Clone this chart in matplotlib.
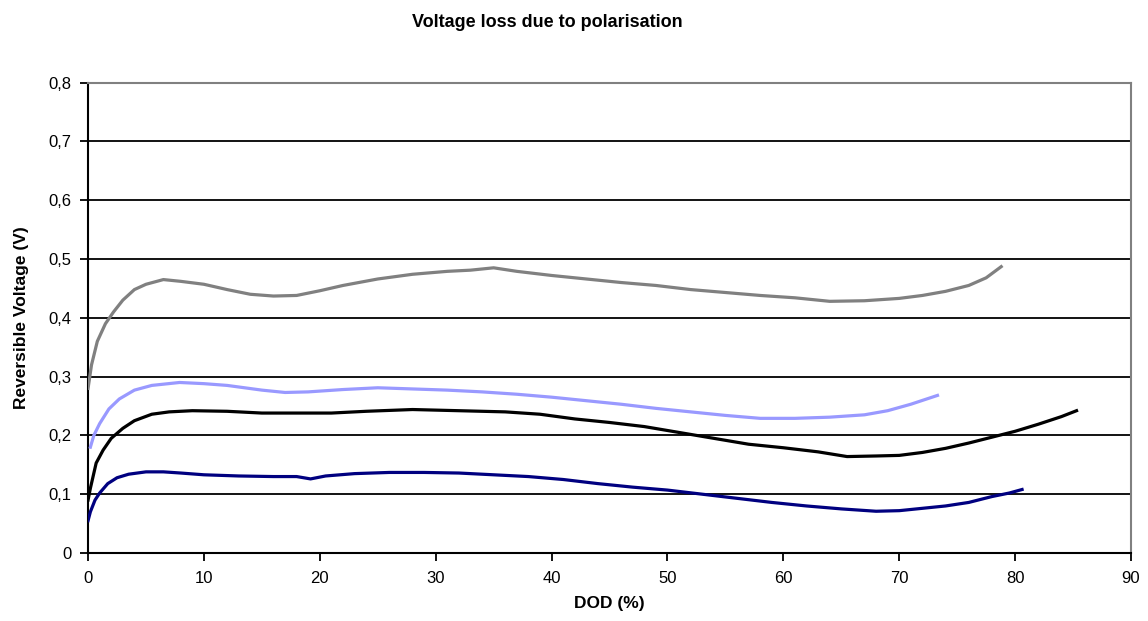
import matplotlib.pyplot as plt
from matplotlib.ticker import FuncFormatter

plt.rcParams['font.family'] = ['Liberation Sans', 'DejaVu Sans']

# Depth of discharge (%) and reversible voltage (V) for each test curve
gray_x = [0.0, 0.3, 0.8, 1.5, 2.2, 3.0, 4.0, 5.0, 6.5, 8, 10, 12, 14, 16, 18, 20, 22, 25, 28, 31,
          33, 35, 37, 40, 43, 46, 49, 52, 55, 58, 61, 64, 67, 70, 72, 74, 76, 77.5, 78.8]
gray_y = [0.28, 0.32, 0.36, 0.39, 0.41, 0.43, 0.448, 0.457, 0.465, 0.462, 0.457, 0.448, 0.44,
          0.437, 0.438, 0.446, 0.455, 0.466, 0.474, 0.479, 0.481, 0.485, 0.479, 0.472, 0.466,
          0.46, 0.455, 0.448, 0.443, 0.438, 0.434, 0.428, 0.429, 0.433, 0.438, 0.445, 0.455,
          0.468, 0.487]

lav_x = [0.2, 0.5, 1.0, 1.8, 2.7, 4.0, 5.5, 7.9, 10, 12, 15, 17, 19, 22, 25, 28, 31, 34, 37, 40,
         43, 46, 49, 52, 55, 58, 61, 64, 67, 69, 71, 73.3]
lav_y = [0.18, 0.2, 0.22, 0.245, 0.262, 0.277, 0.285, 0.29, 0.288, 0.285, 0.277, 0.273, 0.274,
         0.278, 0.281, 0.279, 0.277, 0.274, 0.27, 0.265, 0.259, 0.253, 0.246, 0.24, 0.234, 0.229,
         0.229, 0.231, 0.235, 0.242, 0.253, 0.268]

black_x = [0.0, 0.2, 0.7, 1.3, 2.0, 3.0, 4.0, 5.5, 7.0, 9, 12, 15, 18, 21, 24, 28, 32, 36, 39, 42,
           45, 48, 51, 54, 57, 60, 63, 65.5, 68, 70, 72, 74, 76, 78, 80, 82, 84, 85.3]
black_y = [0.09, 0.11, 0.153, 0.175, 0.195, 0.212, 0.225, 0.236, 0.24, 0.242, 0.241, 0.238,
           0.238, 0.238, 0.241, 0.244, 0.242, 0.24, 0.236, 0.228, 0.222, 0.215, 0.205, 0.195,
           0.185, 0.179, 0.172, 0.164, 0.165, 0.166, 0.171, 0.178, 0.187, 0.197, 0.207, 0.219,
           0.232, 0.242]

navy_x = [0.0, 0.2, 0.6, 1.0, 1.7, 2.5, 3.5, 5.0, 6.5, 8, 10, 13, 16, 18, 19.2, 20.5, 23, 26, 29,
          32, 35, 38, 41, 44, 47, 50, 53, 56, 59, 62, 65, 68, 70, 72, 74, 76, 78, 79.5, 80.6]
navy_y = [0.055, 0.07, 0.09, 0.102, 0.118, 0.128, 0.134, 0.138, 0.138, 0.136, 0.133, 0.131,
          0.13, 0.13, 0.126, 0.131, 0.135, 0.137, 0.137, 0.136, 0.133, 0.13, 0.125, 0.118, 0.112,
          0.107, 0.1, 0.093, 0.086, 0.08, 0.075, 0.071, 0.072, 0.076, 0.08, 0.086, 0.096, 0.102,
          0.108]

x_ticks = [0, 10, 20, 30, 40, 50, 60, 70, 80, 90]
y_ticks = [0, 0.1, 0.2, 0.3, 0.4, 0.5, 0.6, 0.7, 0.8]

fig = plt.figure(figsize=(11.48, 6.21), dpi=100)
ax = fig.add_axes([0.0767, 0.1095, 0.9085, 0.7575])

for yv in y_ticks[1:-1]:
    ax.axhline(yv, color='black', lw=1.3, zorder=1)

ax.plot(gray_x, gray_y, color='#808080', lw=2.3, zorder=3)
ax.plot(lav_x, lav_y, color='#9999FF', lw=2.3, zorder=3)
ax.plot(black_x, black_y, color='black', lw=2.3, zorder=3)
ax.plot(navy_x, navy_y, color='#000080', lw=2.3, zorder=3)

ax.set_xlim(0, 90)
ax.set_ylim(0, 0.8)
ax.set_xticks(x_ticks)
ax.set_yticks(y_ticks)
ax.yaxis.set_major_formatter(FuncFormatter(lambda v, p: '0' if v == 0 else f'{v:.1f}'.replace('.', ',')))

for side in ('left', 'bottom'):
    ax.spines[side].set_color('black')
    ax.spines[side].set_linewidth(1.5)
for side in ('top', 'right'):
    ax.spines[side].set_color('#808080')
    ax.spines[side].set_linewidth(1.5)

ax.tick_params(axis='both', direction='out', length=6, width=1.3, labelsize=12, colors='black')
ax.tick_params(axis='x', pad=7)
ax.tick_params(axis='y', pad=6)

ax.set_xlabel('DOD (%)', fontsize=12.5, fontweight='bold', labelpad=7)
ax.set_ylabel('Reversible Voltage (V)', fontsize=12.5, fontweight='bold', labelpad=14)
fig.suptitle('Voltage loss due to polarisation', fontsize=13, fontweight='bold',
             x=0.477, y=0.978)

fig.savefig('out.png', dpi=100)
